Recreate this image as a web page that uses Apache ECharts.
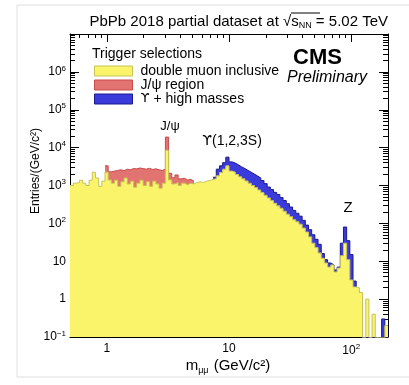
<!DOCTYPE html>
<html>
<head>
<meta charset="utf-8">
<script src="https://cdn.jsdelivr.net/npm/echarts@6/dist/echarts.min.js"></script>
<style>
  html, body { margin: 0; padding: 0; background: #fff; }
  #chart { width: 409px; height: 385px; }
</style>
</head>
<body>
<div id="chart"></div>
<script>
// dimuon mass spectrum, 100 log-uniform bins between 0.5 and 200 GeV/c2
var massMin = 0.5;
var massMax = 200;
var binCount = 100;

// double muon inclusive, bins 0..99
var yellowCounts = [
  1000, 1150, 1200, 1380, 1150, 1000, 1380, 2240, 1580, 950,
  1300, 2240, 1400, 1150, 1380, 950, 1250, 1580, 1100, 1300,
  900, 1150, 1380, 1000, 1250, 950, 1300, 1100, 850, 1150,
  8500, 1400, 1100, 1200, 1000, 1150, 1050, 1150, 1100, 1200,
  1250, 1200, 1300, 1350, 1450, 1500, 1800, 2200, 2700, 3300,
  2400, 2250, 1950, 1700, 1500, 1320, 1150, 1000, 880, 760,
  650, 550, 470, 400, 340, 290, 250, 210, 175, 150,
  125, 110, 95, 75, 59, 44, 30, 23, 16.5, 12,
  9, 7, 8, 5.2, 6.6, 14, 30, 11, 3.2, 2.1,
  2.0, 1.5, 0, 1.0, 0, 0.4, 0, 0, 0, 0.2
];

// J/psi region trigger, starts at bin 11
var redStart = 11;
var redCounts = [
  3300, 2300, 2400, 2500, 2600, 2450, 2700, 2600, 2800, 2750,
  2900, 2800, 2700, 2850, 2650, 2750, 2600, 2500, 2700, 19000,
  2100, 1600, 1900, 1500, 1550, 1400, 1450, 1300
];

// Upsilon + high masses trigger, starts at bin 45
var blueStart = 45;
var blueCounts = [
  1650, 2700, 3300, 4000, 5600, 4200, 3900, 3500, 3100, 2800,
  2500, 2240, 2000, 1780, 1580, 1350, 1120, 910, 780, 660,
  580, 480, 400, 330, 270, 220, 185, 155, 120, 90,
  68, 50, 38, 28, 16, 11, 9, 8, 5.9, 7,
  30, 80, 35, 15, 3, 1.5, 0.8, 0, 0, 0,
  0, 0, 0, 0.3, 0
];

var seriesNames = ['double muon inclusive', 'J/\u03c8 region', '\u03d2 + high masses'];
var fillColors = ['#f9f46a', '#e17471', '#3b3bdc'];
var lineColors = ['#c8c258', '#c84c4c', '#1a1a8c'];

var yMin = 0.1, yMax = 1e7;
var emptyLevel = 1e-3; // empty bins fall below the axis floor

var FONT = '"Liberation Sans", Arial, Helvetica, sans-serif';
var GREEK = '"DejaVu Sans", sans-serif';

function binEdge(i) {
  return massMin * Math.pow(massMax / massMin, i / binCount);
}

function histPoints(counts, start) {
  var pts = [];
  for (var k = 0; k < counts.length; k++) {
    var v = counts[k] > 0 ? counts[k] : emptyLevel;
    pts.push([binEdge(start + k), v]);
    pts.push([binEdge(start + k + 1), v]);
  }
  return pts;
}

function powLabel(v, maxExp) {
  var lg = Math.log10(v);
  var e = Math.round(lg);
  if (Math.abs(lg - e) > 0.01 || e > maxExp) return '';
  if (e === 0) return '1';
  if (e === 1) return '10';
  return '10{sup|' + (e < 0 ? '\u2212' + (-e) : e) + '}';
}

var labelRich = {
  sup: { fontSize: 8, fontFamily: FONT, color: '#000', padding: [0, 0, 7, 0] }
};

function makeAxis(kind, pos, withLabels) {
  var isX = kind === 'x';
  return {
    type: 'log',
    logBase: 10,
    position: pos,
    min: isX ? massMin : yMin,
    max: isX ? massMax : yMax,
    axisLine: { show: true, onZero: false, lineStyle: { color: '#000', width: 1 } },
    axisTick: { show: true, inside: true, length: isX ? 8 : 9, lineStyle: { color: '#000' } },
    minorTick: { show: true, splitNumber: 9, length: isX ? 4 : 5, lineStyle: { color: '#000' } },
    splitLine: { show: false },
    minorSplitLine: { show: false },
    axisLabel: {
      show: withLabels,
      fontFamily: FONT,
      fontSize: 12,
      color: '#000',
      margin: isX ? 6 : 4,
      formatter: function (v) { return powLabel(v, isX ? 2 : 6); },
      rich: labelRich
    }
  };
}

function histSeries(idx, counts, start, z) {
  return {
    name: seriesNames[idx],
    type: 'line',
    data: histPoints(counts, start),
    symbol: 'none',
    z: z,
    clip: true,
    itemStyle: { color: fillColors[idx] },
    lineStyle: { color: lineColors[idx], width: 1 },
    areaStyle: { color: fillColors[idx], opacity: 1, origin: 'start' },
    silent: true
  };
}

var chart = echarts.init(document.getElementById('chart'), null, { renderer: 'canvas' });

chart.setOption({
  animation: false,
  backgroundColor: '#fff',
  grid: { left: 70, right: 21, top: 34, bottom: 48 },
  xAxis: [makeAxis('x', 'bottom', true), makeAxis('x', 'top', false)],
  yAxis: [makeAxis('y', 'left', true), makeAxis('y', 'right', false)],
  legend: {
    orient: 'vertical',
    left: 94,
    top: 64,
    padding: 0,
    itemWidth: 38,
    itemHeight: 10,
    itemGap: 0,
    selectedMode: false,
    textStyle: {
      fontFamily: FONT, fontSize: 14, color: '#000', padding: [0, 0, 0, 3],
      rich: { u: { fontFamily: GREEK, fontSize: 13, color: '#000' } }
    },
    formatter: function (name) {
      return name.charAt(0) === '\u03d2' ? '{u|\u03d2}' + name.slice(1) : name;
    },
    data: seriesNames.map(function (n, i) {
      return { name: n, icon: 'rect', itemStyle: { color: fillColors[i], borderColor: lineColors[i], borderWidth: 1 } };
    })
  },
  series: [
    histSeries(1, redCounts, redStart, 2),
    histSeries(2, blueCounts, blueStart, 2),
    histSeries(0, yellowCounts, 0, 3)
  ],
  graphic: [
    { type: 'rect', silent: true, shape: { x: 17, y: 5, width: 420, height: 372 },
      style: { fill: 'none', stroke: '#dedede', lineWidth: 1 } },
    { type: 'text', x: 388, y: 22, silent: true,
      style: { text: 'PbPb 2018 partial dataset at {r|\u221a}{s|s}{n|NN} = 5.02 TeV',
        align: 'right', verticalAlign: 'middle', fontFamily: FONT, fontSize: 15, fill: '#000',
        rich: {
          r: { fontFamily: FONT, fontSize: 15 },
          s: { fontFamily: FONT, fontSize: 15 },
          n: { fontFamily: FONT, fontSize: 9, padding: [8, 0, 0, 0] }
        } } },
    { type: 'line', silent: true, shape: { x1: 291, y1: 13, x2: 320, y2: 13 },
      style: { stroke: '#000', lineWidth: 1 } },
    { type: 'text', x: 92, y: 54, silent: true,
      style: { text: 'Trigger selections', verticalAlign: 'middle', fontFamily: FONT, fontSize: 14, fill: '#000' } },
    { type: 'text', x: 293, y: 58, silent: true,
      style: { text: 'CMS', verticalAlign: 'middle', fontFamily: FONT, fontSize: 22, fontWeight: 'bold', fill: '#000' } },
    { type: 'text', x: 287, y: 78, silent: true,
      style: { text: 'Preliminary', verticalAlign: 'middle', fontFamily: FONT, fontSize: 16, fontStyle: 'italic', fill: '#000' } },
    { type: 'text', x: 170, y: 126, silent: true,
      style: { text: 'J/\u03c8', align: 'center', verticalAlign: 'middle', fontFamily: FONT, fontSize: 13, fill: '#000' } },
    { type: 'text', x: 232, y: 141, silent: true,
      style: { text: '{u|\u03d2}(1,2,3S)', align: 'center', verticalAlign: 'middle', fontFamily: FONT, fontSize: 14, fill: '#000',
        rich: { u: { fontFamily: GREEK, fontSize: 14, fill: '#000' } } } },
    { type: 'text', x: 348, y: 208, silent: true,
      style: { text: 'Z', align: 'center', verticalAlign: 'middle', fontFamily: FONT, fontSize: 15, fill: '#000' } },
    { type: 'text', x: 105, y: 283, silent: true,
      style: { text: 'p', verticalAlign: 'middle', fontFamily: FONT, fontSize: 15, fill: '#000' } },
    { type: 'text', x: 113, y: 278, silent: true,
      style: { text: '\u03bc', verticalAlign: 'middle', fontFamily: FONT, fontSize: 8, fill: '#000' } },
    { type: 'text', x: 113, y: 289, silent: true,
      style: { text: 'T', verticalAlign: 'middle', fontFamily: FONT, fontSize: 9, fill: '#000' } },
    { type: 'text', x: 121, y: 284, silent: true,
      style: { text: '> 4 GeV/c', verticalAlign: 'middle', fontFamily: FONT, fontSize: 15, fill: '#000' } },
    { type: 'text', x: 36, y: 171, rotation: Math.PI / 2, silent: true,
      style: { text: 'Entries/(GeV/c\u00b2)', align: 'center', verticalAlign: 'middle', fontFamily: FONT, fontSize: 12, fill: '#000' } },
    { type: 'text', x: 228, y: 366, silent: true,
      style: { text: 'm{s|\u03bc\u03bc} (GeV/c\u00b2)', align: 'center', verticalAlign: 'middle', fontFamily: FONT, fontSize: 15, fill: '#000',
        rich: { s: { fontFamily: FONT, fontSize: 9, padding: [9, 1, 0, 0] } } } }
  ]
});
</script>
</body>
</html>
